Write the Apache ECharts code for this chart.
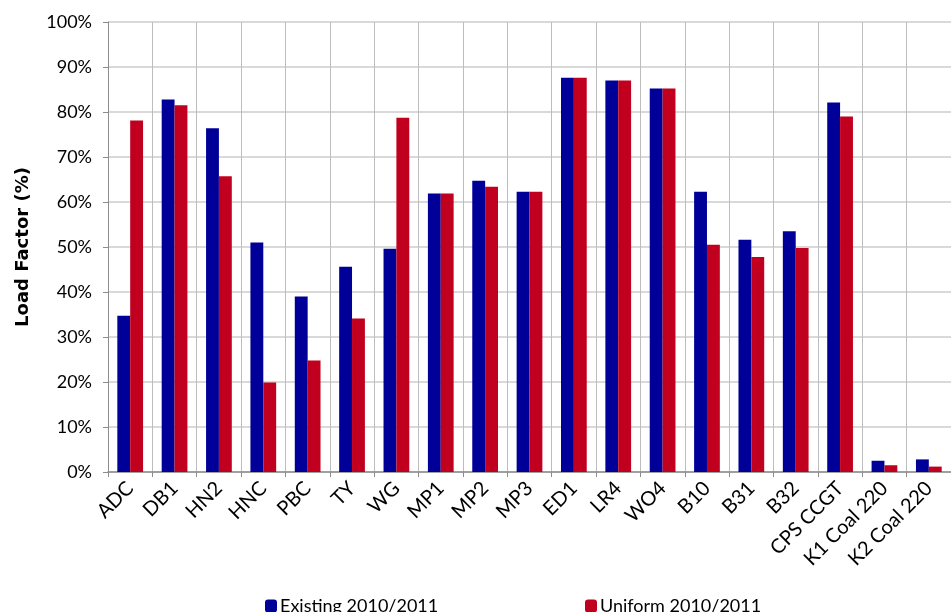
<!DOCTYPE html>
<html>
<head>
<meta charset="utf-8">
<script src="https://cdn.jsdelivr.net/npm/echarts@6/dist/echarts.min.js"></script>
<style>
  html, body { margin: 0; padding: 0; background: #fff; }
  #chart { width: 951px; height: 612px; }
</style>
</head>
<body>
<div id="chart"></div>
<script>
// plant units
const plants = ['ADC', 'DB1', 'HN2', 'HNC', 'PBC', 'TY', 'WG', 'MP1', 'MP2', 'MP3',
  'ED1', 'LR4', 'WO4', 'B10', 'B31', 'B32', 'CPS CCGT', 'K1 Coal 220', 'K2 Coal 220'];

// load factor, %
const existing = [34.7, 82.8, 76.4, 51.0, 39.0, 45.6, 49.6, 61.9, 64.7, 62.3,
  87.6, 87.0, 85.2, 62.3, 51.6, 53.5, 82.1, 2.5, 2.8];
const uniform = [78.1, 81.5, 65.7, 19.9, 24.8, 34.1, 78.7, 61.9, 63.4, 62.3,
  87.6, 87.0, 85.2, 50.5, 47.8, 49.8, 79.0, 1.5, 1.2];

const font = 'Lato, "Open Sans", sans-serif';

const chart = echarts.init(document.getElementById('chart'));
chart.setOption({
  animation: false,
  textStyle: { fontFamily: font },
  grid: { left: 108, top: 22, right: -4, bottom: 140, containLabel: false },
  legend: [
    {
      data: ['Existing 2010/2011'],
      left: 260, top: 592,
      itemWidth: 12, itemHeight: 13, itemGap: 0,
      textStyle: { fontSize: 18, color: '#000', fontFamily: font, padding: [0, 0, 0, -2] }
    },
    {
      data: ['Uniform 2010/2011'],
      left: 580, top: 592,
      itemWidth: 12, itemHeight: 13, itemGap: 0,
      textStyle: { fontSize: 18, color: '#000', fontFamily: font, padding: [0, 0, 0, -2] }
    }
  ],
  xAxis: {
    type: 'category',
    data: plants,
    axisLine: { lineStyle: { color: '#8c8c8c', width: 1.5 } },
    axisTick: { show: true, length: 5, lineStyle: { color: '#8c8c8c' } },
    axisLabel: { rotate: 45, margin: 13, fontSize: 20, color: '#000', fontFamily: font },
    splitLine: { show: true, lineStyle: { color: '#bdbdbd', width: 1 } }
  },
  yAxis: {
    type: 'value',
    min: 0, max: 100, interval: 10,
    name: 'Load Factor (%)',
    nameLocation: 'middle',
    nameGap: 76,
    nameTextStyle: { fontSize: 18, fontWeight: 'bold', color: '#000', fontFamily: '"DejaVu Sans", sans-serif' },
    axisLine: { show: true, lineStyle: { color: '#8c8c8c', width: 1 } },
    axisTick: { show: true, length: 5, lineStyle: { color: '#8c8c8c' } },
    axisLabel: { formatter: '{value}%', fontSize: 18, color: '#000', margin: 16, fontFamily: font },
    splitLine: { lineStyle: { color: '#d9d9d9', width: 2 } }
  },
  series: [
    {
      name: 'Existing 2010/2011',
      type: 'bar',
      data: existing,
      barWidth: '29%',
      barGap: '0%',
      itemStyle: { color: '#000099' }
    },
    {
      name: 'Uniform 2010/2011',
      type: 'bar',
      data: uniform,
      barWidth: '29%',
      itemStyle: { color: '#c0001e' }
    }
  ]
});
</script>
</body>
</html>
